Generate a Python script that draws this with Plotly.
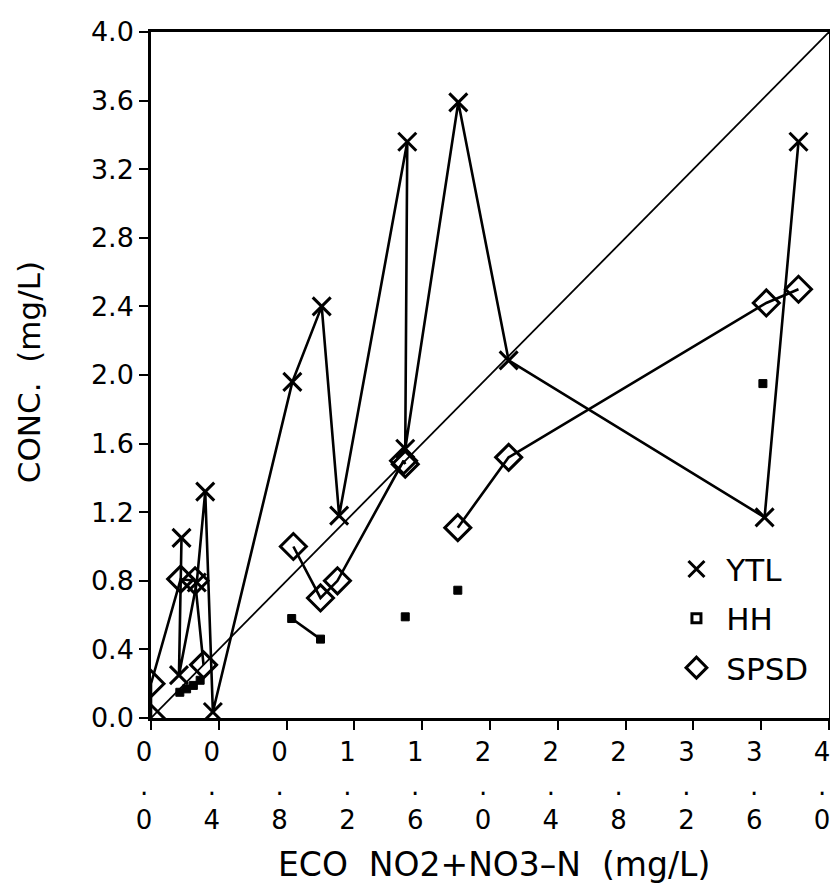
import plotly.graph_objects as go

# YTL concentrations (line follows sampling order)
ytl_x = [0.18, 0.165, 0.27, 0.32, 0.365, 0.834, 1.007, 1.11, 1.512, 1.50, 1.813, 2.11, 3.62, 3.82]
ytl_y = [1.05, 0.25, 0.79, 1.32, 0.035, 1.96, 2.40, 1.18, 3.36, 1.57, 3.59, 2.085, 1.17, 3.36]

# HH concentrations, None = break in the line
hh_x = [0.17, 0.21, 0.25, 0.29, None, 0.83, 1.0, None, 1.5, None, 1.81, None, 3.61]
hh_y = [0.15, 0.17, 0.19, 0.22, None, 0.58, 0.46, None, 0.59, None, 0.745, None, 1.95]

# SPSD concentrations
spsd_x = [0.0, 0.0, 0.175, 0.26, 0.31, None, 0.84, 1.0, 1.1, 1.49, 1.50, None, 1.81, 2.11, 3.63, 3.82]
spsd_y = [0.0, 0.2, 0.81, 0.80, 0.31, None, 1.0, 0.7, 0.8, 1.50, 1.48, None, 1.11, 1.52, 2.42, 2.50]

# 1:1 reference line
ref_line = [0.0, 4.0]

tick_vals = [0.0, 0.4, 0.8, 1.2, 1.6, 2.0, 2.4, 2.8, 3.2, 3.6, 4.0]
x_tick_text = ['<br>.<br>'.join(f'{v:.1f}'.split('.')) for v in tick_vals]

FONT = "DejaVu Sans"

ytl_marker = dict(symbol='x-thin', size=18, color='black', line=dict(color='black', width=3))
hh_marker = dict(symbol='square', size=8, color='black', line=dict(color='black', width=1))
spsd_marker = dict(symbol='diamond-open', size=20, color='black', line=dict(color='black', width=3))

fig = go.Figure()

fig.add_trace(go.Scatter(
    x=ref_line, y=ref_line, mode='lines',
    line=dict(color='black', width=1.8),
    showlegend=False, hoverinfo='skip'
))

for xs, ys, mk in [(ytl_x, ytl_y, ytl_marker), (hh_x, hh_y, hh_marker), (spsd_x, spsd_y, spsd_marker)]:
    fig.add_trace(go.Scatter(
        x=xs, y=ys, mode='lines+markers',
        line=dict(color='black', width=2.6),
        marker=mk, connectgaps=False, showlegend=False
    ))

# legend entries: symbols only, as in the original key
legend_items = [
    ('\u00a0YTL', dict(symbol='x-thin', size=16, color='black', line=dict(color='black', width=3))),
    ('\u00a0HH', dict(symbol='square-open', size=9, color='black', line=dict(color='black', width=3))),
    ('\u00a0SPSD', dict(symbol='diamond-open', size=16, color='black', line=dict(color='black', width=3))),
]
for i, (name, mk) in enumerate(legend_items):
    fig.add_trace(go.Scatter(
        x=[None], y=[None], mode='markers', name=name, marker=mk,
        legendgroup=f'g{i}'
    ))

# page body has an 8px margin, so the figure is sized to fit inside it
fig.update_layout(
    width=822,
    height=880,
    paper_bgcolor='white',
    plot_bgcolor='white',
    margin=dict(l=143, r=1, t=24, b=170),
    font=dict(family=FONT, size=26, color='black'),
    legend=dict(
        x=0.775, y=0.256, xanchor='left', yanchor='top',
        bgcolor='rgba(0,0,0,0)',
        font=dict(family=FONT, size=31, color='black'),
        tracegroupgap=6,
    ),
    annotations=[
        dict(text='CONC.\u00a0\u00a0(mg/L)', textangle=-90,
             x=-0.18, y=0.504, xref='paper', yref='paper',
             xanchor='center', yanchor='middle', showarrow=False,
             font=dict(family=FONT, size=31, color='black')),
        dict(text='ECO\u00a0\u00a0NO2+NO3\u2013N\u00a0\u00a0(mg/L)',
             x=0.506, y=-0.213, xref='paper', yref='paper',
             xanchor='center', yanchor='middle', showarrow=False,
             font=dict(family=FONT, size=33, color='black')),
    ],
)

fig.update_xaxes(
    range=[0, 4], tickvals=tick_vals, ticktext=x_tick_text,
    ticks='outside', ticklen=9, tickwidth=2, tickcolor='black',
    showline=True, linecolor='black', linewidth=2.5, mirror=True,
    showgrid=False, zeroline=False, ticklabelshift=-7, automargin=False,
    ticklabeloverflow='allow',
    tickfont=dict(family=FONT, size=26, color='black'),
)
fig.update_yaxes(
    range=[0, 4], tickvals=tick_vals, tickformat='.1f',
    ticks='outside', ticklen=9, tickwidth=2, tickcolor='black',
    showline=True, linecolor='black', linewidth=2.5, mirror=True,
    showgrid=False, zeroline=False, automargin=False,
    tickfont=dict(family=FONT, size=27, color='black'),
)

fig.write_html("out.html")
